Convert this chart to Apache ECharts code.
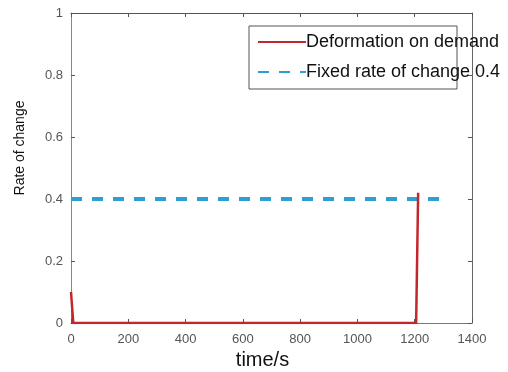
<!DOCTYPE html>
<html>
<head>
<meta charset="utf-8">
<script src="https://cdn.jsdelivr.net/npm/echarts@6/dist/echarts.min.js"></script>
<style>html,body{margin:0;padding:0;background:#fff}#c{width:508px;height:372px}</style>
</head>
<body>
<div id="c"></div>
<script>
const seriesNames = ['Deformation on demand', 'Fixed rate of change 0.4'];
const demandTime = [0, 8, 1205, 1212];
const demandRate = [0.1, 0, 0, 0.42];
const fixedTime = [0, 1300];
const fixedRate = [0.4, 0.4];
const xRange = [0, 1400, 200];
const yRange = [0, 1, 0.2];

const zip = (a, b) => a.map((v, i) => [v, b[i]]);
const font = 'Liberation Sans, Arial, sans-serif';
const chart = echarts.init(document.getElementById('c'));
const tick = () => ({ show: true, inside: true, length: 4, lineStyle: { color: '#555' } });
const axLine = (c) => ({ show: true, onZero: false, lineStyle: { color: c, width: 1 } });
chart.setOption({
  animation: false,
  backgroundColor: '#fff',
  grid: { left: 71, right: 36, top: 13, bottom: 49, containLabel: false, outerBoundsMode: 'none' },
  graphic: [{
    type: 'rect', z: 5,
    shape: { x: 249, y: 26, width: 208, height: 63 },
    style: { fill: '#fff', stroke: '#555', lineWidth: 1 }
  }],
  legend: {
    orient: 'vertical', left: 252, top: 28, z: 10,
    itemWidth: 48, itemHeight: 12, itemGap: 12,
    itemStyle: { opacity: 0 },
    textStyle: { fontFamily: font, fontSize: 18, color: '#111', padding: [0, 0, 0, -5] },
    data: seriesNames
  },
  xAxis: [{
    type: 'value', min: xRange[0], max: xRange[1], interval: xRange[2],
    name: 'time/s', nameLocation: 'middle', nameGap: 27,
    nameTextStyle: { fontFamily: font, fontSize: 20, color: '#111', padding: [0, 18, 0, 0] },
    axisLine: axLine('#777'), axisTick: tick(), splitLine: { show: false },
    axisLabel: { fontFamily: font, fontSize: 13, color: '#555', margin: 10, formatter: v => String(v) }
  }, {
    type: 'value', position: 'top', min: xRange[0], max: xRange[1], interval: xRange[2],
    axisLine: axLine('#555'), axisTick: tick(), splitLine: { show: false },
    axisLabel: { show: false }
  }],
  yAxis: [{
    type: 'value', min: yRange[0], max: yRange[1], interval: yRange[2],
    name: 'Rate of change', nameLocation: 'middle', nameGap: 44,
    nameTextStyle: { fontFamily: font, fontSize: 14, color: '#111', padding: [0, 0, 0, 40] },
    axisLine: axLine('#888'), axisTick: tick(), splitLine: { show: false },
    axisLabel: { fontFamily: font, fontSize: 13, color: '#555', margin: 8, formatter: v => String(v) }
  }, {
    type: 'value', position: 'right', min: yRange[0], max: yRange[1], interval: yRange[2],
    axisLine: axLine('#666'), axisTick: tick(), splitLine: { show: false },
    axisLabel: { show: false }
  }],
  series: [{
    name: seriesNames[0], type: 'line', showSymbol: false, symbol: 'none', z: 3,
    data: zip(demandTime, demandRate),
    lineStyle: { color: '#c1272d', width: 2.5 }, itemStyle: { color: '#c1272d' }
  }, {
    name: seriesNames[1], type: 'line', showSymbol: false, symbol: 'none', z: 2,
    data: zip(fixedTime, fixedRate),
    lineStyle: { color: '#2e9fd0', width: 4, type: [11, 10] }, itemStyle: { color: '#2e9fd0' }
  }, {
    type: 'line', xAxisIndex: 1, yAxisIndex: 1, data: [], silent: true, showSymbol: false
  }]
});
</script>
</body>
</html>
